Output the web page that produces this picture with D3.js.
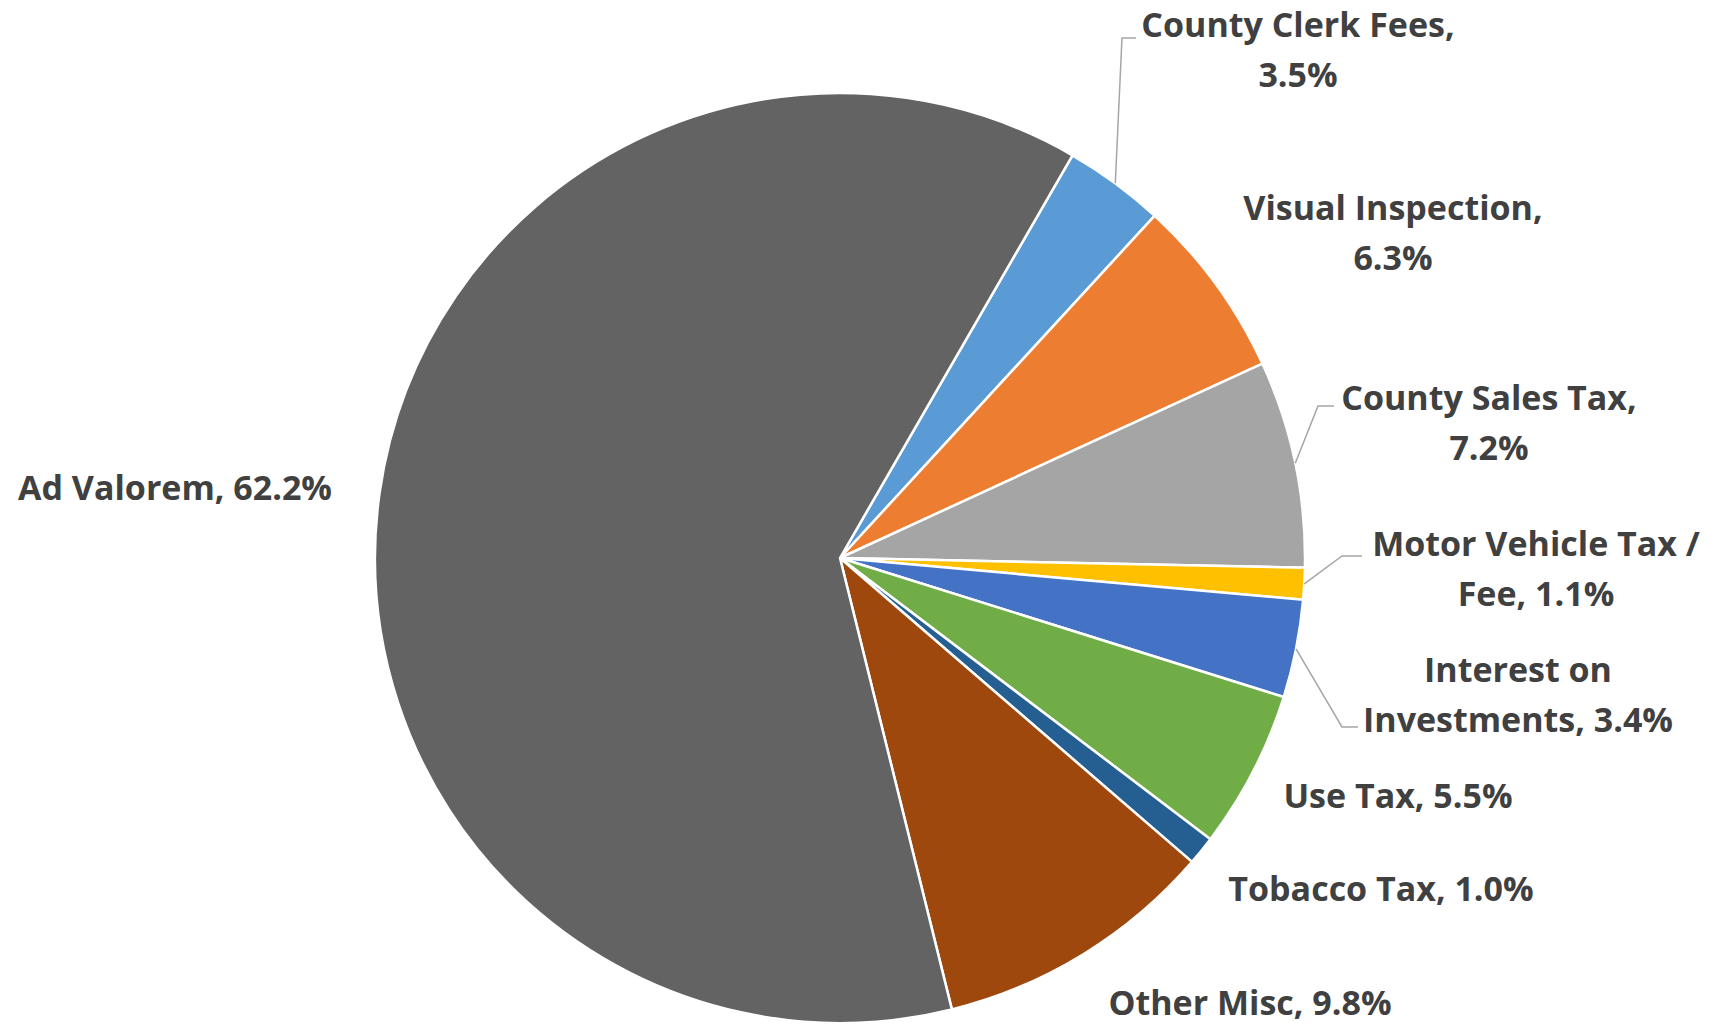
<!DOCTYPE html>
<meta charset="utf-8">
<style>
body { margin: 0; background: #fff; }
text {
  font-family: "Open Sans", "Noto Sans", sans-serif;
  font-weight: 700;
  font-size: 34px;
  fill: #404040;
}
</style>
<svg width="1731" height="1025"></svg>
<script src="https://d3js.org/d3.v7.min.js"></script>
<script>

// slices in clockwise order, starting just right of 12 o'clock
var categories = ["County Clerk Fees", "Visual Inspection", "County Sales Tax",
  "Motor Vehicle Tax / Fee", "Interest on Investments", "Use Tax",
  "Tobacco Tax", "Other Misc", "Ad Valorem"];
var shares = [3.5, 6.3, 7.2, 1.1, 3.4, 5.5, 1.0, 9.8, 62.2];
var labelLines = [
  ["County Clerk Fees,", "3.5%"],
  ["Visual Inspection,", "6.3%"],
  ["County Sales Tax,", "7.2%"],
  ["Motor Vehicle Tax /", "Fee, 1.1%"],
  ["Interest on", "Investments, 3.4%"],
  ["Use Tax, 5.5%"],
  ["Tobacco Tax, 1.0%"],
  ["Other Misc, 9.8%"],
  ["Ad Valorem, 62.2%"]
];
var colors = ["#5b9bd5", "#ed7d31", "#a5a5a5", "#ffc000", "#4472c4",
  "#70ad47", "#255e91", "#9e480e", "#636363"];

// where each label was dragged to (centre of first line baseline) and its leader, if any
var labelLayout = [
  {x: 1298, y: 37, leader: [[1122, 38], [1136, 38]]},
  {x: 1393, y: 220},
  {x: 1489, y: 410, leader: [[1318, 406], [1334, 406]]},
  {x: 1536, y: 556, leader: [[1342, 556], [1362, 556]]},
  {x: 1518, y: 682, leader: [[1342, 727], [1358, 727]]},
  {x: 1398, y: 808},
  {x: 1381, y: 901},
  {x: 1250, y: 1015},
  {x: 175, y: 500}
];
var lineGap = 50;

var svg = d3.select("svg"),
    cx = 840, cy = 558, radius = 465;

var data = categories.map(function(c, i) { return {name: c, value: shares[i], i: i}; });

var pie = d3.pie()
    .sort(null)
    .value(function(d) { return d.value; })
    .startAngle(30 * Math.PI / 180)
    .endAngle(390 * Math.PI / 180);

var arc = d3.arc().innerRadius(0).outerRadius(radius);
var edge = d3.arc().innerRadius(radius).outerRadius(radius);

var arcs = pie(data);

var g = svg.append("g").attr("transform", "translate(" + cx + "," + cy + ")");

g.selectAll("path.slice")
  .data(arcs)
  .enter().append("path")
    .attr("class", "slice")
    .attr("d", arc)
    .attr("fill", function(d) { return colors[d.data.i]; })
    .attr("stroke", "#fff")
    .attr("stroke-width", 2.5)
    .attr("stroke-linejoin", "round");

// leader lines from the rim to the label
var line = d3.line();
svg.selectAll("path.leader")
  .data(arcs.filter(function(d) { return labelLayout[d.data.i].leader; }))
  .enter().append("path")
    .attr("class", "leader")
    .attr("fill", "none")
    .attr("stroke", "#a6a6a6")
    .attr("stroke-width", 1.5)
    .attr("d", function(d) {
      var p = edge.centroid(d);
      return line([[cx + p[0], cy + p[1]]].concat(labelLayout[d.data.i].leader));
    });

var labels = svg.selectAll("text.label")
  .data(arcs)
  .enter().append("text")
    .attr("class", "label")
    .attr("text-anchor", "middle")
    .attr("x", function(d) { return labelLayout[d.data.i].x; })
    .attr("y", function(d) { return labelLayout[d.data.i].y; });

labels.selectAll("tspan")
  .data(function(d) { return labelLines[d.data.i].map(function(t) { return {t: t, x: labelLayout[d.data.i].x}; }); })
  .enter().append("tspan")
    .attr("x", function(d) { return d.x; })
    .attr("dy", function(d, j) { return j ? lineGap : 0; })
    .text(function(d) { return d.t; });

</script>
